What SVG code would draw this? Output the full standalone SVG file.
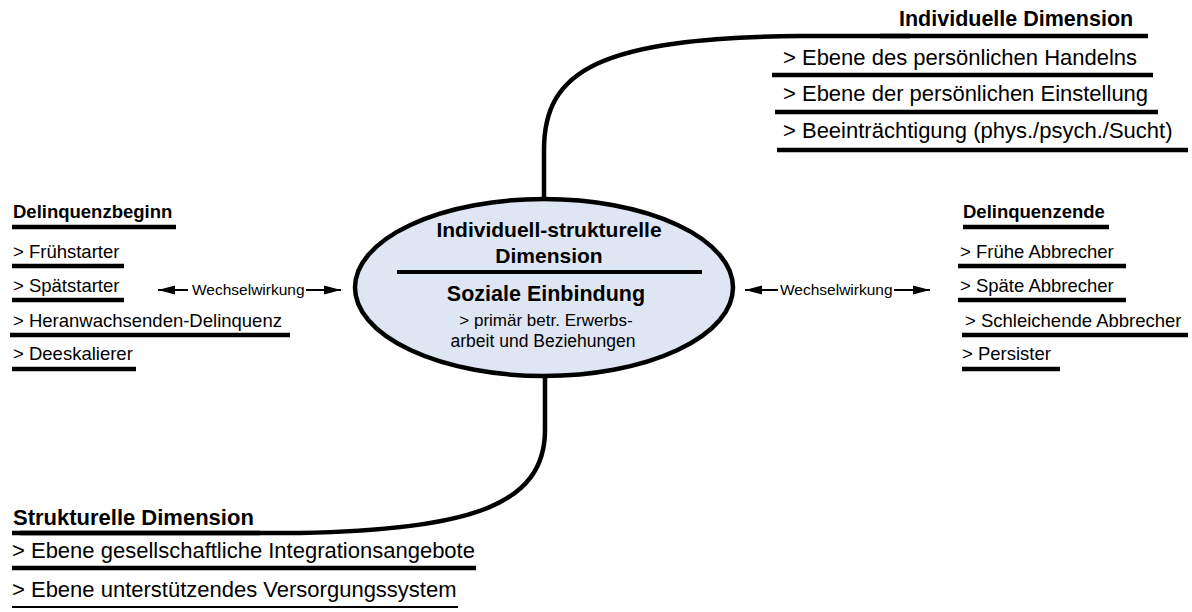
<svg xmlns="http://www.w3.org/2000/svg" width="1192" height="612" viewBox="0 0 1192 612">
<style>
text{font-family:"Liberation Sans",Arial,sans-serif;fill:#000}
.b{font-weight:bold}
.col{font-size:18.5px}
.big{font-size:22px}
.ww{font-size:15.5px}
.ul{stroke:#000;stroke-width:4.5;fill:none}
.con{stroke:#000;stroke-width:4.5;fill:none;stroke-linecap:butt}
.arr{stroke:#000;stroke-width:2;fill:none}
</style>
<defs>
<marker id="ah" markerUnits="userSpaceOnUse" markerWidth="18" markerHeight="10" refX="17" refY="5" orient="auto">
<path d="M0,0.5 L17,5 L0,9.5 z" fill="#000"/>
</marker>
</defs>
<rect width="1192" height="612" fill="#fff"/>
<g id="connectors">
<path class="con" d="M544,198 L544,150 C544,70 600,38 800,36 L910,36"/>
<path class="con" d="M545,378 L545,430 C545,505 470,530 300,533 L20,533"/>
<line class="arr" x1="188" y1="290" x2="158" y2="290" marker-end="url(#ah)"/>
<line class="arr" x1="306" y1="290" x2="341" y2="290" marker-end="url(#ah)"/>
<text class="ww" x="192" y="295">Wechselwirkung</text>
<line class="arr" x1="778" y1="290" x2="745" y2="290" marker-end="url(#ah)"/>
<line class="arr" x1="894" y1="290" x2="930" y2="290" marker-end="url(#ah)"/>
<text class="ww" x="780" y="295">Wechselwirkung</text>
</g>
<g id="center">
<ellipse cx="544" cy="287.5" rx="189" ry="88.5" fill="#dfe6f3" stroke="#000" stroke-width="4.5"/>
<line x1="397" y1="272" x2="702" y2="272" stroke="#000" stroke-width="4"/>
<text class="b" x="549" y="237" font-size="21" text-anchor="middle">Individuell-strukturelle</text>
<text class="b" x="549" y="263" font-size="21" text-anchor="middle">Dimension</text>
<text class="b" x="546" y="301" font-size="21.5" text-anchor="middle">Soziale Einbindung</text>
<text x="546" y="326" font-size="17" text-anchor="middle">&gt; primär betr. Erwerbs-</text>
<text x="543" y="347" font-size="17.5" text-anchor="middle">arbeit und Beziehungen</text>
</g>
<g id="individuelle-dimension">
<text class="b" x="899" y="26" font-size="21.5">Individuelle Dimension</text>
<line class="ul" x1="880" y1="36" x2="1148" y2="36"/>
<text class="big" x="783" y="65">&gt; Ebene des persönlichen Handelns</text>
<line class="ul" x1="772" y1="75" x2="1153" y2="75"/>
<text class="big" x="783" y="101">&gt; Ebene der persönlichen Einstellung</text>
<line class="ul" x1="775" y1="112" x2="1158" y2="112"/>
<text class="big" x="783" y="138">&gt; Beeinträchtigung (phys./psych./Sucht)</text>
<line class="ul" x1="777" y1="150" x2="1188" y2="150"/>
</g>
<g id="strukturelle-dimension">
<text class="b big" x="13" y="525">Strukturelle Dimension</text>
<line class="ul" x1="12" y1="533" x2="260" y2="533"/>
<text class="big" x="12" y="558">&gt; Ebene gesellschaftliche Integrationsangebote</text>
<line class="ul" x1="12" y1="568" x2="476" y2="568"/>
<text class="big" x="12" y="597">&gt; Ebene unterstützendes Versorgungssystem</text>
<line x1="12" y1="607" x2="458" y2="607" stroke="#000" stroke-width="2"/>
</g>
<g id="delinquenzbeginn">
<text class="b col" x="13" y="218">Delinquenzbeginn</text>
<line class="ul" x1="12" y1="227" x2="176" y2="227"/>
<text class="col" x="13" y="258">&gt; Frühstarter</text>
<line class="ul" x1="12" y1="266" x2="124" y2="266"/>
<text class="col" x="13" y="292">&gt; Spätstarter</text>
<line class="ul" x1="12" y1="300" x2="124" y2="300"/>
<text class="col" x="13" y="327">&gt; Heranwachsenden-Delinquenz</text>
<line class="ul" x1="10" y1="335" x2="290" y2="335"/>
<text class="col" x="13" y="360">&gt; Deeskalierer</text>
<line class="ul" x1="12" y1="369" x2="136" y2="369"/>
</g>
<g id="delinquenzende">
<text class="b col" x="963" y="218">Delinquenzende</text>
<line class="ul" x1="963" y1="227" x2="1109" y2="227"/>
<text class="col" x="960" y="258">&gt; Frühe Abbrecher</text>
<line class="ul" x1="958" y1="266" x2="1126" y2="266"/>
<text class="col" x="960" y="292">&gt; Späte Abbrecher</text>
<line class="ul" x1="958" y1="300" x2="1126" y2="300"/>
<text class="col" x="965" y="327">&gt; Schleichende Abbrecher</text>
<line class="ul" x1="962" y1="335" x2="1188" y2="335"/>
<text class="col" x="962" y="360">&gt; Persister</text>
<line class="ul" x1="962" y1="369" x2="1060" y2="369"/>
</g>
</svg>
